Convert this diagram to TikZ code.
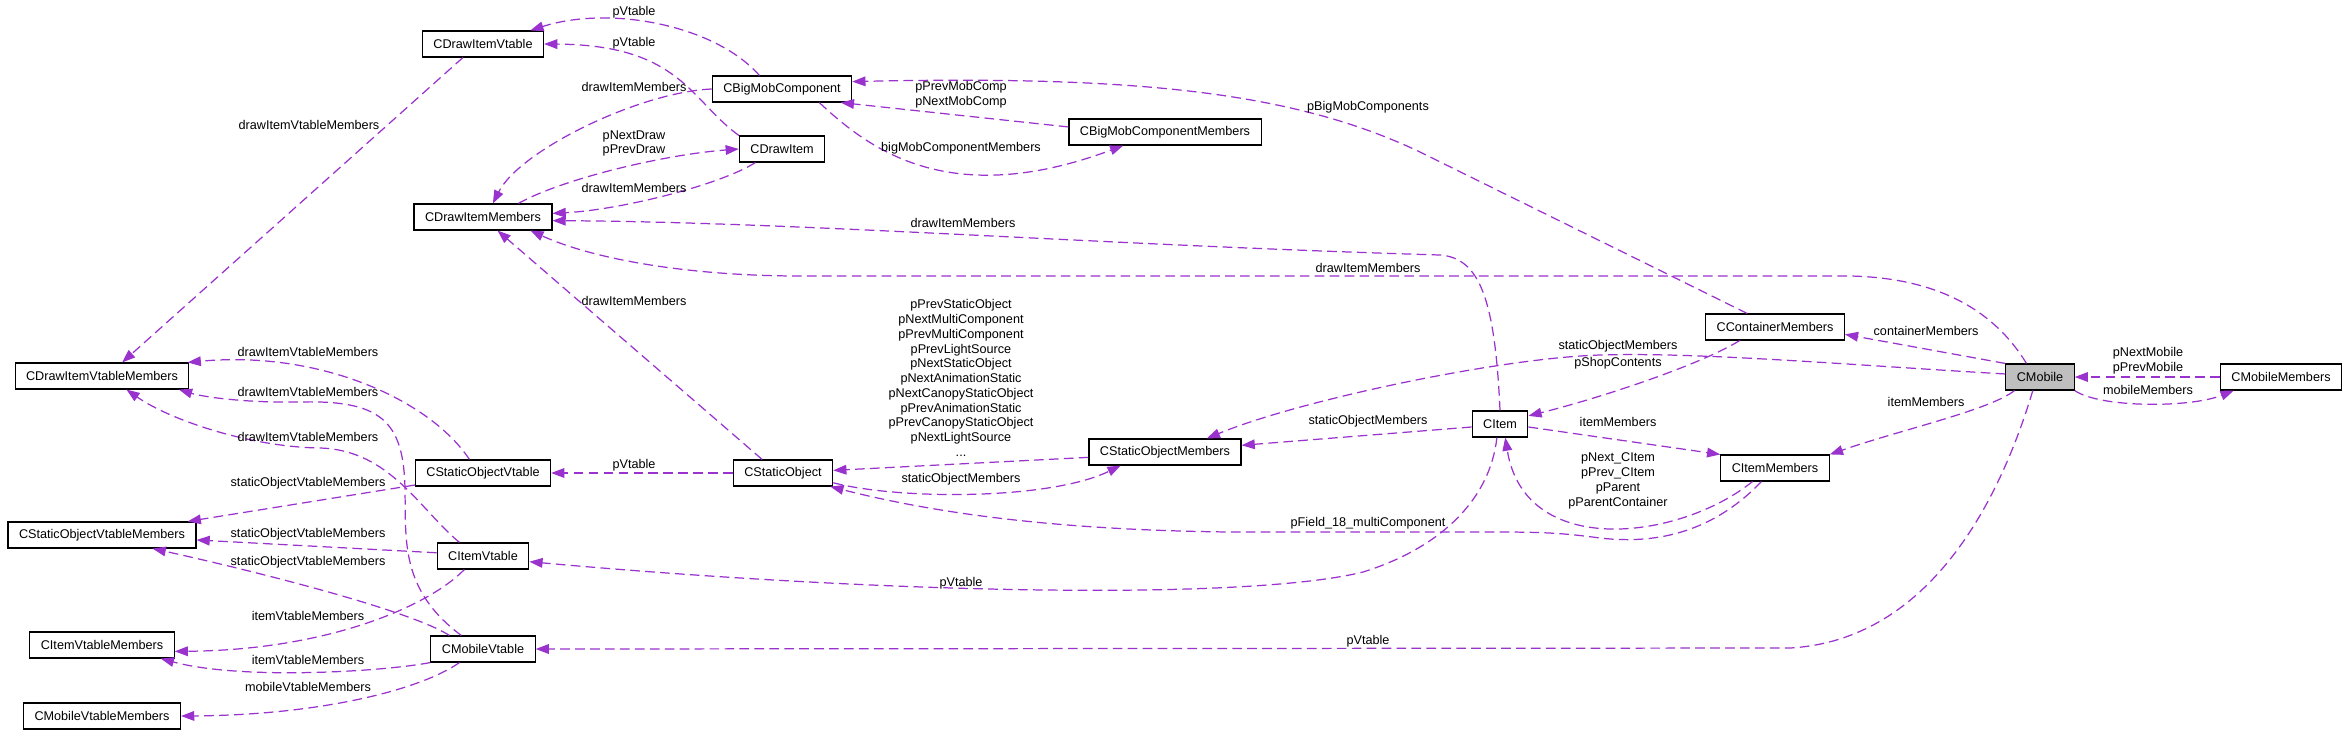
\documentclass[tikz,border=0pt]{standalone}
\usepackage{fontspec}
\newfontfamily\dxfont{Liberation Sans}
\usetikzlibrary{arrows.meta}
\definecolor{edgepurple}{HTML}{9A32CD}

\begin{document}
\begin{tikzpicture}[
    x=0.02cm, y=-0.02cm,
    cls/.style={draw=black, line width=0.65pt, fill=white, font=\dxfont\fontsize{7.2}{8.4}\selectfont, inner xsep=0.22cm, inner ysep=0pt, minimum height=0.52cm},
    focus/.style={cls, fill=gray!50},
    lbl/.style={font=\dxfont\fontsize{7.2}{8.4}\selectfont, align=center, inner sep=0pt},
    rel/.style={draw=edgepurple, line width=0.7pt, dash pattern=on 5.5pt off 3pt, -{Triangle[length=7.5pt,width=5.5pt]}}
]
\fill[white] (0,0) rectangle (2348,735);
\useasboundingbox (0,0) rectangle (2348,735);

% classes
\node[cls] (dvt) at (483,44) {CDrawItemVtable};
\node[cls] (dim) at (483,217) {CDrawItemMembers};
\node[cls] (bmc) at (782,89) {CBigMobComponent};
\node[cls] (di) at (782,149) {CDrawItem};
\node[cls] (bmcm) at (1165,132) {CBigMobComponentMembers};
\node[cls] (divm) at (102,376) {CDrawItemVtableMembers};
\node[cls] (sovt) at (483,473) {CStaticObjectVtable};
\node[cls] (sovm) at (102,535) {CStaticObjectVtableMembers};
\node[cls] (ivt) at (483,556) {CItemVtable};
\node[cls] (ivm) at (102,645) {CItemVtableMembers};
\node[cls] (mvt) at (483,649) {CMobileVtable};
\node[cls] (mvm) at (102,716) {CMobileVtableMembers};
\node[cls] (so) at (783,473) {CStaticObject};
\node[cls] (som) at (1165,452) {CStaticObjectMembers};
\node[cls] (item) at (1500,424) {CItem};
\node[cls] (cm) at (1775,327) {CContainerMembers};
\node[cls] (im) at (1775,468) {CItemMembers};
\node[focus] (mob) at (2040,377) {CMobile};
\node[cls] (mm) at (2281,377) {CMobileMembers};

% draw item part
\draw[rel] (bmc.149) .. controls (715,25) and (610,5) .. (dvt.16) node[lbl] at (634,12) {pVtable};
\draw[rel] (di.north west) .. controls (690,100) and (680,45) .. (dvt.east) node[lbl] at (634,43) {pVtable};
\draw[rel] (bmc.west) .. controls (640,92) and (520,150) .. (dim.54) node[lbl] at (634,87) {drawItemMembers};
\draw[rel] (dim.21) .. controls (560,180) and (660,155) .. (di.west) node[lbl] at (634,143.5) {pNextDraw\\pPrevDraw};
\draw[rel] (di.207) .. controls (720,185) and (620,210) .. (dim.3) node[lbl] at (634,188) {drawItemMembers};
\draw[rel] (item.north) .. controls (1495,300) and (1480,258) .. (1440,255) .. controls (1100,245) and (800,222) .. (dim.357) node[lbl] at (963,223) {drawItemMembers};
\draw[rel] (mob.135) .. controls (2000,320) and (1950,278) .. (1850,276) -- (800,276) .. controls (700,276) and (600,262) .. (dim.344) node[lbl] at (1368,268) {drawItemMembers};
\draw[rel] (cm.154) -- (1420,152) .. controls (1300,95) and (1150,75) .. (bmc.6) node[lbl] at (1368,107) {pBigMobComponents};
\draw[rel] (bmcm.177) -- (bmc.347) node[lbl] at (961,95) {pPrevMobComp\\pNextMobComp};
\draw[rel] (bmc.340) .. controls (870,150) and (950,210) .. (bmcm.198) node[lbl] at (961,148) {bigMobComponentMembers};

% vtables
\draw[rel] (dvt.214) -- (divm.34) node[lbl] at (309,125) {drawItemVtableMembers};
\draw[rel] (sovt.135) .. controls (430,400) and (320,350) .. (divm.9) node[lbl] at (308,352) {drawItemVtableMembers};
\draw[rel] (mvt.148) .. controls (400,590) and (406,540) .. (405,490) .. controls (404,420) and (380,400) .. (300,402) .. controls (240,403) and (200,396) .. (divm.350) node[lbl] at (308,392) {drawItemVtableMembers};
\draw[rel] (ivt.150) .. controls (420,510) and (390,450) .. (320,448) .. controls (250,447) and (170,420) .. (divm.331) node[lbl] at (308,437) {drawItemVtableMembers};
\draw[rel] (sovt.190) -- (sovm.9) node[lbl] at (308,483) {staticObjectVtableMembers};
\draw[rel] (ivt.176) -- (sovm.357) node[lbl] at (308,534) {staticObjectVtableMembers};
\draw[rel] (mvt.158) .. controls (410,610) and (250,570) .. (sovm.345) node[lbl] at (308,562) {staticObjectVtableMembers};
\draw[rel] (ivt.216) .. controls (430,605) and (330,650) .. (ivm.355) node[lbl] at (308,616) {itemVtableMembers};
\draw[rel] (mvt.south west) .. controls (380,672) and (240,680) .. (ivm.347) node[lbl] at (308,660) {itemVtableMembers};
\draw[rel] (mvt.210) .. controls (420,690) and (320,715) .. (mvm.east) node[lbl] at (308,687) {mobileVtableMembers};

% static objects
\draw[rel] (so.west) -- (sovt.east) node[lbl] at (634,465) {pVtable};
\draw[rel] (so.147) -- (dim.317) node[lbl] at (634,301) {drawItemMembers};
\draw[rel] (som.184) -- (so.3) node[lbl] at (961,378) {pPrevStaticObject\\pNextMultiComponent\\pPrevMultiComponent\\pPrevLightSource\\pNextStaticObject\\pNextAnimationStatic\\pNextCanopyStaticObject\\pPrevAnimationStatic\\pPrevCanopyStaticObject\\pNextLightSource\\...};
\draw[rel] (so.349) .. controls (900,500) and (1050,500) .. (som.197) node[lbl] at (961,479) {staticObjectMembers};
\draw[rel] (item.186) -- (som.5) node[lbl] at (1368,421) {staticObjectMembers};
\draw[rel] (mob.175) .. controls (1850,365) and (1700,352) .. (1600,355) .. controls (1500,358) and (1300,400) .. (som.18) node[lbl] at (1618,346) {staticObjectMembers};

% items and mobiles
\draw[rel] (cm.201) .. controls (1700,365) and (1600,398) .. (item.16) node[lbl] at (1618,363) {pShopContents};
\draw[rel] (mob.north west) -- (cm.354) node[lbl] at (1926,331) {containerMembers};
\draw[rel] (mob.208) .. controls (1990,410) and (1900,430) .. (im.north east) node[lbl] at (1926,402) {itemMembers};
\draw[rel] (item.354) -- (im.north west) node[lbl] at (1618,422) {itemMembers};
\draw[rel] (im.211) .. controls (1680,540) and (1525,560) .. (item.291) node[lbl] at (1618,481) {pNext\_CItem\\pPrev\_CItem\\pParent\\pParentContainer};
\draw[rel] (im.225) .. controls (1715,530) and (1660,545) .. (1600,538) .. controls (1570,534) and (1550,532) .. (1500,532) -- (1230,532) .. controls (1050,530) and (930,512) .. (so.344) node[lbl] at (1368,523) {pField\_18\_multiComponent};
\draw[rel] (item.257) .. controls (1490,500) and (1440,548) .. (1363,572) .. controls (1250,600) and (900,595) .. (ivt.353) node[lbl] at (961,583) {pVtable};
\draw[rel] (mob.242) .. controls (2000,500) and (1930,640) .. (1790,648) -- (mvt.east) node[lbl] at (1368,641) {pVtable};
\draw[rel] (mm.west) -- (mob.east) node[lbl] at (2148,361) {pNextMobile\\pPrevMobile};
\draw[rel] (mob.south east) .. controls (2100,408) and (2190,408) .. (mm.196) node[lbl] at (2148,390) {mobileMembers};
\end{tikzpicture}
\end{document}
